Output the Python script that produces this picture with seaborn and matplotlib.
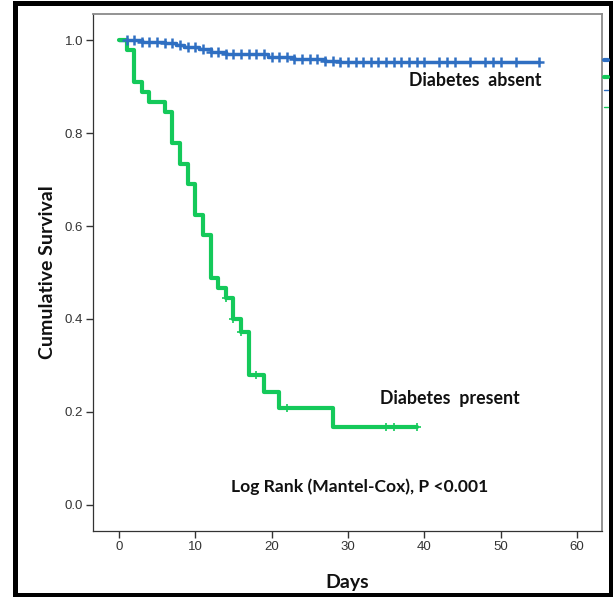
import numpy as np
import seaborn as sns
import matplotlib.pyplot as plt
from matplotlib.patches import Rectangle
from matplotlib.lines import Line2D

# Kaplan-Meier step data
absent_days = [0, 3, 6, 7.5, 8.5, 10.5, 12, 14, 19.5, 23, 27, 29, 55]
absent_surv = [1.0, 0.996, 0.993, 0.989, 0.984, 0.980, 0.975, 0.971, 0.964, 0.960, 0.955, 0.952, 0.952]
absent_censored = [1, 2, 3, 4, 5, 6, 7, 8, 9, 10, 11, 12, 13, 14, 15, 16, 17, 18, 19, 20,
                   21, 22, 23, 24, 25, 26, 27, 28, 29, 30, 31, 32, 33, 34, 35, 36, 37, 38,
                   39, 40, 42, 43, 44, 46, 48, 49, 50, 52, 55]

present_days = [0, 1, 2, 3, 4, 6, 7, 8, 9, 10, 11, 12, 13, 14, 15, 16, 17, 19, 21, 28, 39]
present_surv = [1.0, 0.978, 0.910, 0.888, 0.867, 0.845, 0.778, 0.733, 0.690, 0.624, 0.581,
                0.488, 0.467, 0.445, 0.400, 0.372, 0.280, 0.243, 0.209, 0.168, 0.168]
present_censored = [14, 15, 16, 18, 22, 35, 36, 39]

x_ticks = [0, 10, 20, 30, 40, 50, 60]
y_ticks = [0.0, 0.2, 0.4, 0.6, 0.8, 1.0]

blue = '#2F6FC2'
green = '#14C95A'


def surv_at(days, surv, t):
    idx = np.searchsorted(days, t, side='right') - 1
    return [surv[i] for i in idx]


sns.set_style('white')
plt.rcParams['font.family'] = ['Liberation Sans', 'DejaVu Sans']

fig = plt.figure(figsize=(6.13, 5.97), dpi=100)
ax = fig.add_axes([93 / 613, 1 - 531 / 597, (602 - 93) / 613, (531 - 14) / 597])

sns.lineplot(x=absent_days, y=absent_surv, drawstyle='steps-post', estimator=None,
             color=blue, linewidth=2.5, ax=ax)
sns.lineplot(x=present_days, y=present_surv, drawstyle='steps-post', estimator=None,
             color=green, linewidth=3.0, ax=ax)

sns.scatterplot(x=absent_censored, y=surv_at(absent_days, absent_surv, absent_censored),
                marker='+', s=55, linewidth=1.8, color=blue, ax=ax, zorder=3)
sns.scatterplot(x=present_censored, y=surv_at(present_days, present_surv, present_censored),
                marker='+', s=40, linewidth=1.2, color=green, ax=ax, zorder=3)

ax.set_xlim(-3.4, 63.3)
ax.set_ylim(-0.056, 1.056)
ax.set_xticks(x_ticks)
ax.set_yticks(y_ticks)
ax.set_xticklabels([str(v) for v in x_ticks])
ax.set_yticklabels(['%.1f' % v for v in y_ticks])
ax.tick_params(axis='both', direction='out', length=5, width=1, color='#333333',
               labelsize=9.5, labelcolor='#333333', bottom=True, left=True, pad=2)

for side in ['left', 'bottom']:
    ax.spines[side].set_color('#333333')
    ax.spines[side].set_linewidth(0.9)
for side in ['top', 'right']:
    ax.spines[side].set_color('#8a8a8a')
    ax.spines[side].set_linewidth(1.3)

bold = dict(family=['Lato', 'DejaVu Sans'], fontweight='bold', color='#111111')
ax.set_xlabel('Days', fontsize=14, labelpad=15, **bold)
ax.set_ylabel('Cumulative Survival', fontsize=14, labelpad=6, **bold)

ax.text(55.4, 0.912, 'Diabetes  absent', ha='right', va='center', fontsize=12.8, **bold)
ax.text(34.2, 0.230, 'Diabetes  present', ha='left', va='center', fontsize=12.8, **bold)
ax.text(31.5, 0.039, 'Log Rank (Mantel-Cox), P <0.001', ha='center', va='center',
        fontsize=12.6, **bold)

# outer black frame of the original figure
fig.patches.append(Rectangle((14.5 / 613, 2.5 / 597), (611 - 14.5) / 613, (594.5 - 2.5) / 597,
                             transform=fig.transFigure, fill=False, edgecolor='black',
                             linewidth=3.6))

# clipped legend remnants on the right edge
for y, c, lw in [(60, blue, 3), (77, green, 3), (90, blue, 1), (107, green, 1)]:
    fig.add_artist(Line2D([604 / 613, 608 / 613], [1 - y / 597, 1 - y / 597],
                          transform=fig.transFigure, color=c, linewidth=lw))

fig.savefig('out.png', dpi=100)
